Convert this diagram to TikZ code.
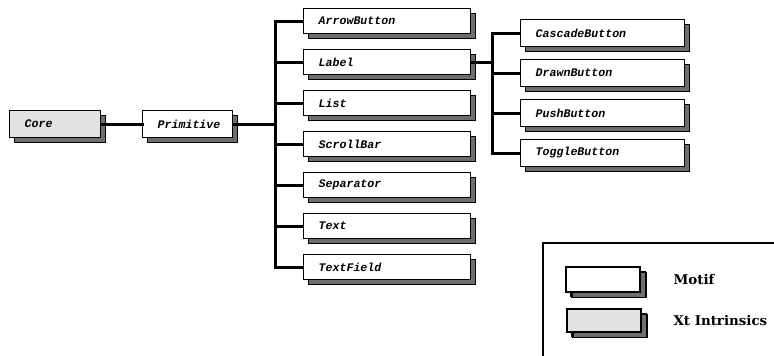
\documentclass[tikz,border=0pt]{standalone}
\usepackage{fontspec}
\setmonofont{Liberation Mono}
\setmainfont{DejaVu Serif}
\usetikzlibrary{shadows}
\definecolor{shade}{HTML}{6E6E6E}
\definecolor{xtgray}{HTML}{E2E2E2}
\tikzset{
  box/.style={draw=black, line width=1.4pt, fill=white, rectangle, anchor=west,
    inner xsep=15pt, inner ysep=0pt, align=left,
    font=\ttfamily\bfseries\itshape\fontsize{11.6}{12}\selectfont,
    general shadow={shadow xshift=5pt, shadow yshift=-5pt, fill=shade, draw=black, line width=1.2pt}},
  midbox/.style={box, text width=137pt, minimum height=25pt},
  rbox/.style={box, text width=134pt, minimum height=27pt},
  legbox/.style={box, minimum width=74pt, inner xsep=0pt, line width=2pt,
    general shadow={shadow xshift=6pt, shadow yshift=-6pt, fill=shade, draw=black, line width=1.6pt}},
  xtbox/.style={fill=xtgray},
  conn/.style={line width=3pt, line cap=rect},
  legtext/.style={anchor=west, font=\bfseries\fontsize{13.4}{15}\selectfont}
}
\begin{document}
\begin{tikzpicture}[x=1pt,y=-1pt]
\useasboundingbox (0,0) rectangle (774,356);
\clip (0,0) rectangle (774,356);
\coordinate (t1) at (275,124);
\coordinate (t2) at (492,62);
\node[box, xtbox, text width=61pt, minimum height=27pt] (core) at (9,124) {Core};
\node[box, text width=60pt, minimum height=27pt] (prim) at (142,124) {Primitive};
\node[midbox] (ab) at (303,21) {ArrowButton};
\node[midbox] (lab) at (303,62) {Label};
\node[midbox] (list) at (303,103) {List};
\node[midbox] (sb) at (303,144) {ScrollBar};
\node[midbox] (sep) at (303,185) {Separator};
\node[midbox] (txt) at (303,226) {Text};
\node[midbox] (tf) at (303,267) {TextField};
\node[rbox] (cb) at (520,33) {CascadeButton};
\node[rbox] (db) at (520,73) {DrawnButton};
\node[rbox] (pb) at (520,113) {PushButton};
\node[rbox] (tb) at (520,153) {ToggleButton};
\draw[conn] (core.east) -- (prim.west);
\foreach \c in {ab,lab,list,sb,sep,txt,tf}{
  \draw[conn, line cap=butt] (prim.east) -- (t1) |- (\c.west);
}
\foreach \c in {cb,db,pb,tb}{
  \draw[conn, line cap=butt] (lab.east) -- (t2) |- (\c.west);
}
% legend
\draw[line width=2pt] (543,243) rectangle (800,380);
\node[legbox, minimum height=25pt] (lm) at (565,279) {};
\node[legbox, xtbox, minimum height=23pt] (lx) at (566,320) {};
\node[legtext] (lmt) at (670,280) {Motif};
\node[legtext] (lxt) at (670,321) {Xt Intrinsics};
\end{tikzpicture}
\end{document}
